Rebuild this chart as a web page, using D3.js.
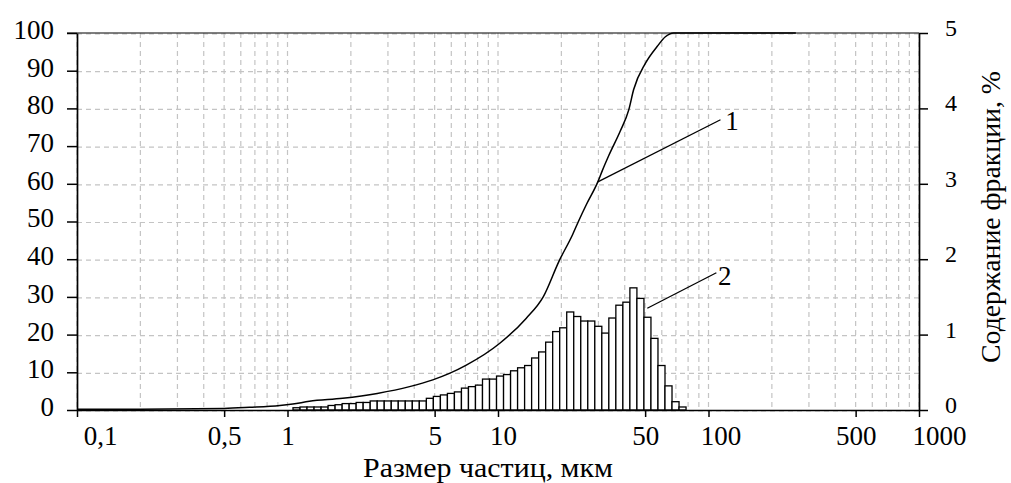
<!DOCTYPE html>
<meta charset="utf-8">
<style>
  body { margin: 0; background: #fff; }
  svg text { font-family: "Liberation Serif", "DejaVu Serif", "Noto Serif", serif; fill: #000; }
</style>
<div id="chart"></div>
<script src="https://d3js.org/d3.v7.min.js"></script>
<script>
// cumulative curve (1): particle size, um -> passing, %
var curveSize = [0.1, 0.2, 0.5, 0.66, 0.92, 1.06, 1.27, 1.83, 2.67, 3.8, 4.9, 5.88, 7.07, 10.2,
                 13.6, 16.4, 19.5, 22.6, 24.1, 26.3, 29.8, 31.3, 33.6, 38.1, 41.8, 44.1, 50.2,
                 57, 62.4, 68.3, 260];
var curvePct  = [0.2, 0.2, 0.4, 0.7, 1.2, 1.6, 2.3, 3.1, 4.4, 6.2, 8.0, 9.7, 11.9, 17.7,
                 24.3, 30.0, 39.5, 46.5, 50.0, 54.5, 60.5, 63.5, 67.5, 74.0, 79.6, 85.0, 92.0,
                 96.4, 99.0, 100, 100];

// histogram (2): bin edges, um, and fraction content, %
var binEdges = [1.062, 1.147, 1.238, 1.337, 1.444, 1.559, 1.683, 1.818, 1.963, 2.119, 2.288,
                2.471, 2.668, 2.881, 3.111, 3.359, 3.627, 3.917, 4.229, 4.567, 4.931, 5.325,
                5.750, 6.208, 6.704, 7.239, 7.816, 8.440, 9.114, 9.841, 10.626, 11.474, 12.390,
                13.379, 14.446, 15.599, 16.844, 18.188, 19.640, 21.207, 22.899, 24.727, 26.700,
                28.831, 31.132, 33.616, 36.299, 39.196, 42.324, 45.701, 49.349, 53.287, 57.539,
                62.131, 67.090, 72.444, 78.225];
var binPct = [0.03, 0.04, 0.04, 0.04, 0.04, 0.06, 0.07, 0.085, 0.085, 0.10, 0.10,
              0.12, 0.12, 0.12, 0.12, 0.12, 0.12, 0.12, 0.12, 0.155, 0.18, 0.20,
              0.22, 0.24, 0.29, 0.31, 0.33, 0.41, 0.41, 0.45, 0.47, 0.52, 0.56,
              0.59, 0.69, 0.77, 0.90, 1.04, 1.09, 1.30, 1.24, 1.18, 1.18,
              1.11, 1.02, 1.22, 1.39, 1.43, 1.62, 1.48, 1.23, 0.95, 0.59,
              0.32, 0.11, 0.04];

var xTicks = [0.1, 0.5, 1, 5, 10, 50, 100, 500, 1000];
var leftTicks = [0, 10, 20, 30, 40, 50, 60, 70, 80, 90, 100];
var rightTicks = [0, 1, 2, 3, 4, 5];

var width = 1011, height = 483;
var serif = "'Liberation Serif', 'DejaVu Serif', 'Noto Serif', serif";
var svg = d3.select("#chart").append("svg")
    .attr("width", width).attr("height", height)
    .attr("font-family", serif);

var x = d3.scaleLog().domain([0.1, 1000]).range([77, 919]);
var yL = d3.scaleLinear().domain([0, 100]).range([410, 33]);
var yR = d3.scaleLinear().domain([0, 5]).range([410, 33]);

// dashed grid
var grid = svg.append("g").attr("stroke", "#c4c4c4").attr("stroke-width", 1.2)
    .attr("stroke-dasharray", "5,4");
grid.selectAll(".gv").data(x.ticks()).enter().append("line")
    .attr("x1", d => x(d)).attr("x2", d => x(d))
    .attr("y1", yL(100)).attr("y2", yL(0));
grid.selectAll(".gh").data(leftTicks).enter().append("line")
    .attr("x1", x(0.1)).attr("x2", x(1000))
    .attr("y1", d => yL(d) + 1).attr("y2", d => yL(d) + 1);

// histogram bars
svg.append("g").selectAll("rect").data(binPct).enter().append("rect")
    .attr("x", (d, i) => x(binEdges[i]))
    .attr("width", (d, i) => x(binEdges[i + 1]) - x(binEdges[i]))
    .attr("y", d => yR(d))
    .attr("height", d => yR(0) - yR(d))
    .attr("fill", "#fff").attr("stroke", "#000").attr("stroke-width", 1.3);

// cumulative curve
var line = d3.line().x(d => x(d[0])).y(d => yL(d[1])).curve(d3.curveMonotoneX);
svg.append("path")
    .datum(curveSize.map((s, i) => [s, curvePct[i]]))
    .attr("d", line)
    .attr("fill", "none").attr("stroke", "#000").attr("stroke-width", 1.5);

// top frame
svg.append("line").attr("x1", 67).attr("x2", x(1000)).attr("y1", yL(100)).attr("y2", yL(100))
    .attr("stroke", "#000").attr("stroke-width", 1.2);

// axes
var fs = 27;
var left = svg.append("g").attr("transform", "translate(" + x(0.1) + ",0)")
    .call(d3.axisLeft(yL).tickValues(leftTicks).tickSize(10).tickSizeOuter(0).tickPadding(13));
left.selectAll("text").attr("font-size", fs).attr("dy", "0.2em");

var bottom = svg.append("g").attr("transform", "translate(0," + yL(0) + ")")
    .call(d3.axisBottom(x).tickValues(xTicks).tickSize(7).tickSizeOuter(0).tickPadding(9)
      .tickFormat(d => String(d).replace(".", ",")));
var labelShift = {0.1: 23, 10: 5, 100: 12, 1000: 20};
bottom.selectAll("text").attr("font-size", fs)
    .attr("dx", d => labelShift[d] || 0);

var right = svg.append("g").attr("transform", "translate(" + x(1000) + ",0)")
    .call(d3.axisRight(yR).tickValues(rightTicks).tickSize(9).tickSizeOuter(0)
      .tickFormat(d3.format("d")));
right.selectAll("text").attr("font-size", 24).attr("x", 32)
    .attr("text-anchor", "middle").attr("dy", "0.1em");

svg.selectAll("g").attr("font-family", serif);
svg.selectAll(".domain").attr("stroke-width", 1.7);
svg.selectAll(".tick line").attr("stroke-width", 1.5);

// axis titles
svg.append("text").attr("x", 488).attr("y", 477).attr("text-anchor", "middle")
    .attr("font-size", fs).attr("textLength", 250).attr("lengthAdjust", "spacingAndGlyphs")
    .text("Размер частиц, мкм");
svg.append("text").attr("transform", "translate(1000,217) rotate(-90)")
    .attr("text-anchor", "middle").attr("font-size", fs)
    .attr("textLength", 292).attr("lengthAdjust", "spacingAndGlyphs")
    .text("Содержание фракции, %");

// leader lines and labels
var ann = svg.append("g").attr("stroke", "#000").attr("stroke-width", 1.3);
ann.append("line").attr("x1", x(29.8)).attr("y1", yL(60.5)).attr("x2", x(114)).attr("y2", yL(77));
ann.append("line").attr("x1", x(51.2)).attr("y1", yR(1.35)).attr("x2", x(109)).attr("y2", yR(1.82));
svg.append("text").attr("x", x(120)).attr("y", yL(74.3)).attr("font-size", fs).text("1");
svg.append("text").attr("x", x(111)).attr("y", yR(1.66)).attr("font-size", fs).text("2");
</script>
